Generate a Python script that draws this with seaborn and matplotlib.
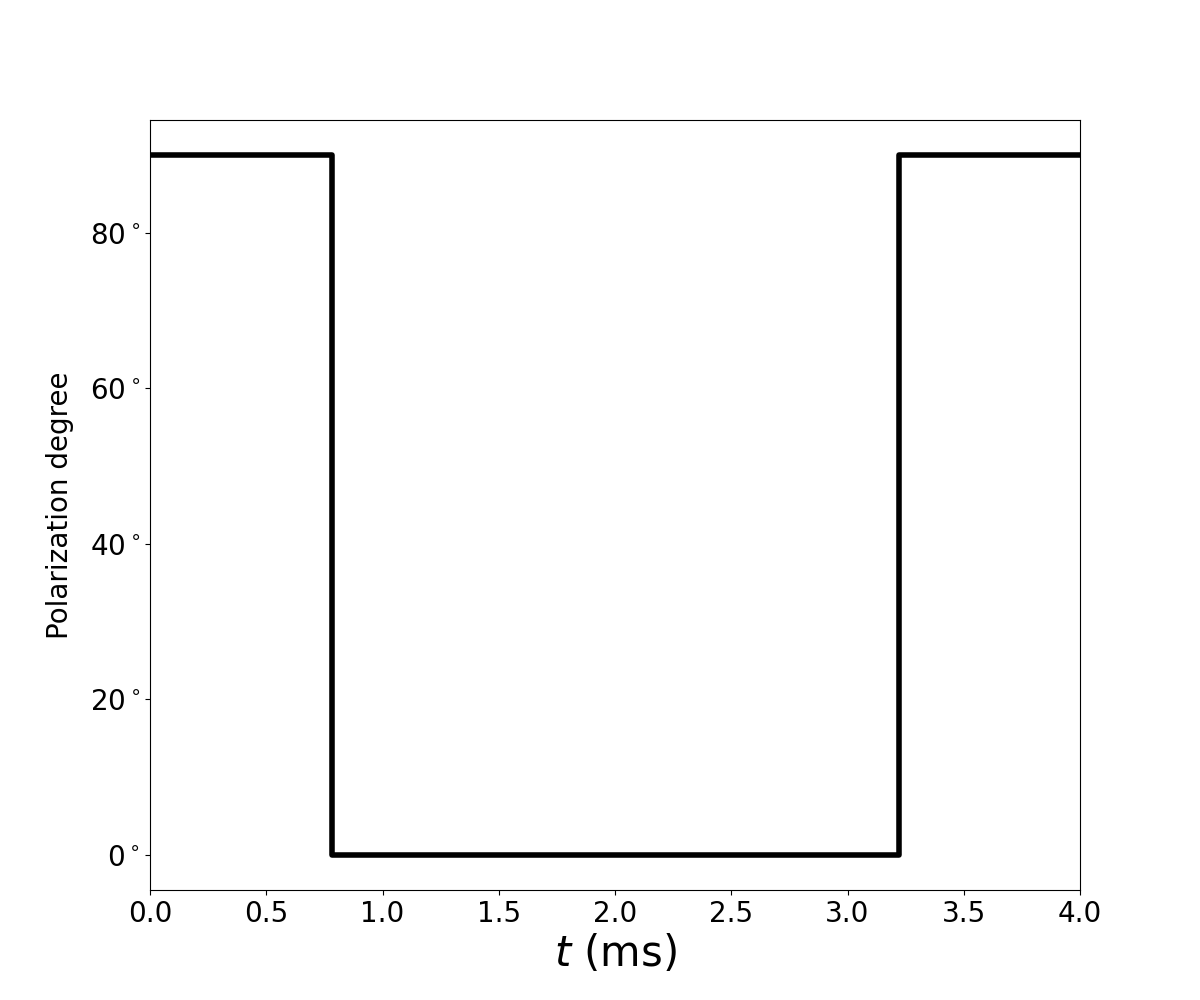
#!/usr/bin/env python3
# -*- coding: utf-8 -*-

import matplotlib
matplotlib.use('Agg')
import matplotlib.pyplot as plt
import matplotlib.ticker as mticker
import pandas as pd
import seaborn as sns

# step profile of the polarization angle (value holds until next switch)
t_ms = [0.0, 0.783, 3.223, 4.0]
angle_deg = [90, 0, 90, 90]

x_ticks = [0.0, 0.5, 1.0, 1.5, 2.0, 2.5, 3.0, 3.5, 4.0]
y_ticks = [0, 20, 40, 60, 80]


def main():
    plt.rcParams['font.family'] = ['DejaVu Sans']

    df = pd.DataFrame({'t': t_ms, 'angle': angle_deg})

    fig, ax = plt.subplots(figsize=(12, 10), dpi=100)
    sns.lineplot(data=df, x='t', y='angle', estimator=None, sort=False,
                 drawstyle='steps-post', color='black', linewidth=4, ax=ax)

    ax.set_xlim(0, 4)
    ax.set_xticks(x_ticks)
    ax.set_yticks(y_ticks)
    ax.yaxis.set_major_formatter(mticker.FuncFormatter(lambda v, p: f'{v:.0f}$^\\circ$'))
    ax.tick_params(labelsize=20)

    ax.set_xlabel('$t$ (ms)', fontsize=30)
    ax.set_ylabel('Polarization degree', fontsize=20, labelpad=11)

    plt.savefig('out.png', dpi=100)
    plt.close()


if __name__ == '__main__':
    main()
